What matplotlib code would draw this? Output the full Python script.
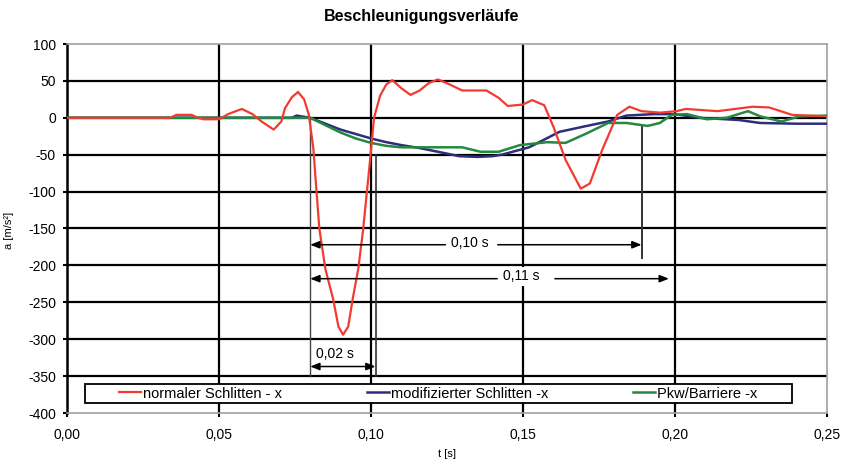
import matplotlib
matplotlib.use("Agg")
import matplotlib.pyplot as plt
from matplotlib.ticker import FixedLocator, FixedFormatter
from matplotlib.patches import Rectangle

plt.rcParams['font.family'] = ['Liberation Sans', 'DejaVu Sans']

# ---------------- data ----------------
t_red = [0, 0.034, 0.036, 0.041, 0.043, 0.045, 0.050, 0.053, 0.0575, 0.061, 0.064, 0.068,
         0.0705, 0.0717, 0.074, 0.076, 0.078, 0.0795, 0.081, 0.083, 0.085, 0.0875, 0.0893,
         0.0908, 0.0925, 0.094, 0.0958, 0.0974, 0.0997, 0.101, 0.102, 0.103, 0.105, 0.107,
         0.110, 0.113, 0.116, 0.119, 0.122,
         0.126, 0.130, 0.138, 0.142, 0.145, 0.150, 0.153, 0.157, 0.160, 0.164, 0.169,
         0.172, 0.176, 0.181, 0.185, 0.189, 0.195, 0.2005, 0.2035, 0.214, 0.2255, 0.231,
         0.2385, 0.25]
a_red = [0, 0, 4, 4, 0, -2, -2, 5, 12, 5, -5, -16,
         -5, 13, 28, 35, 25, 5, -40, -150, -205, -245, -283,
         -294, -283, -245, -205, -152, -57, 0, 15, 30, 45, 51,
         40, 31, 37, 47, 52,
         45, 37, 37, 27, 16, 18, 24, 17, -12, -57, -96,
         -89, -44, 4, 15, 9, 7, 9, 12, 9, 15, 14,
         4, 2]

t_blue = [0, 0.074, 0.0755, 0.077, 0.080, 0.085, 0.090, 0.095, 0.100, 0.105, 0.110, 0.116,
          0.122, 0.129, 0.135, 0.140, 0.143, 0.152, 0.162, 0.171, 0.178, 0.184, 0.193,
          0.200, 0.208, 0.221, 0.228, 0.240, 0.25]
a_blue = [0, 0, 3, 2, 0, -8, -16, -22, -28, -33, -37, -41,
          -46, -52, -53, -52, -50, -40, -19, -11, -5, 3, 5,
          5, 0, -3, -7, -8, -8]

t_green = [0, 0.080, 0.085, 0.090, 0.095, 0.100, 0.105, 0.110, 0.116, 0.130, 0.136, 0.142,
           0.149, 0.158, 0.164, 0.171, 0.178, 0.184, 0.191, 0.195, 0.199, 0.204, 0.2105,
           0.217, 0.224, 0.228, 0.235, 0.241, 0.25]
a_green = [0, 0, -10, -20, -28, -34, -38, -40, -40, -40, -46, -46,
           -37, -33, -34, -21, -7, -7, -11, -7, 4, 5, -2,
           0, 9, 2, -5, 2, 3]

series_labels = ["normaler Schlitten - x", "modifizierter Schlitten -x", "Pkw/Barriere -x"]

x_ticks = [0.00, 0.05, 0.10, 0.15, 0.20, 0.25]
x_ticklabels = ["0,00", "0,05", "0,10", "0,15", "0,20", "0,25"]
y_ticks = [100, 50, 0, -50, -100, -150, -200, -250, -300, -350, -400]
y_ticklabels = ["100", "50", "0", "-50", "-100", "-150", "-200", "-250", "-300", "-350", "-400"]

# annotation marks (times and levels)
t_start = 0.080
t_end_red = 0.1015
t_end_mod = 0.189
t_end_pkw = 0.198
lbl_002 = "0,02 s"
lbl_010 = "0,10 s"
lbl_011 = "0,11 s"

# ---------------- figure ----------------
W, H = 841, 465
fig = plt.figure(figsize=(W/100, H/100), dpi=100)
ax = fig.add_axes([67/W, 1-413/H, 760/W, 369/H])

ax.set_xlim(0, 0.25)
ax.set_ylim(-400, 100)

# grid
for xv in x_ticks[1:-1]:
    ax.axvline(xv, color='black', lw=1.6, zorder=1)
for yv in y_ticks[1:-1]:
    ax.axhline(yv, color='black', lw=1.6, zorder=1)

# annotation verticals
ax.plot([t_start, t_start], [0, -350], color='#444444', lw=1.0, zorder=2)
ax.plot([t_end_red, t_end_red], [-50, -350], color='#333333', lw=1.2, zorder=2)
ax.plot([t_end_mod, t_end_mod], [-13, -190], color='#333333', lw=1.4, zorder=2)

# series
c_red, c_blue, c_green = '#f23b30', '#2e2d7c', '#23893e'
l1, = ax.plot(t_red, a_red, color=c_red, lw=1.6, zorder=5, label=series_labels[0])
l2, = ax.plot(t_blue, a_blue, color=c_blue, lw=1.8, zorder=3, label=series_labels[1])
l3, = ax.plot(t_green, a_green, color=c_green, lw=1.8, zorder=4, label=series_labels[2])

# arrows
ap = dict(arrowstyle='-|>,head_length=0.55,head_width=0.22', color='black', lw=1.1,
          shrinkA=0, shrinkB=0)
y010, y011, y002 = -172, -218, -337
afs = 10
# 0,10 s
ax.annotate('', xy=(t_start, y010), xytext=(0.1245, y010), arrowprops=ap, zorder=6)
ax.annotate('', xy=(t_end_mod, y010), xytext=(0.1417, y010), arrowprops=ap, zorder=6)
ax.text(0.1326, y010 + 3, lbl_010, ha='center', va='center', fontsize=afs, zorder=7)
# 0,11 s
ax.annotate('', xy=(t_start, y011), xytext=(0.1415, y011), arrowprops=ap, zorder=6)
ax.annotate('', xy=(t_end_pkw, y011), xytext=(0.1605, y011), arrowprops=ap, zorder=6)
ax.text(0.1493, y011 + 3, lbl_011, ha='center', va='center', fontsize=afs, zorder=7,
        bbox=dict(facecolor='white', edgecolor='none', pad=1.5))
# 0,02 s
ap2 = dict(arrowstyle='<|-|>,head_length=0.55,head_width=0.22', color='black', lw=1.1,
           shrinkA=0, shrinkB=0)
ax.annotate('', xy=(t_start, y002), xytext=(t_end_red, y002), arrowprops=ap2, zorder=6)
ax.text(0.0883, -320, lbl_002, ha='center', va='center', fontsize=afs, zorder=7)

# spines
for s in ['top', 'right', 'bottom']:
    ax.spines[s].set_color('#a0a0a0')
    ax.spines[s].set_linewidth(1.2)
ax.spines['left'].set_color('black')
ax.spines['left'].set_linewidth(1.8)

ax.xaxis.set_major_locator(FixedLocator(x_ticks))
ax.xaxis.set_major_formatter(FixedFormatter(x_ticklabels))
ax.yaxis.set_major_locator(FixedLocator(y_ticks))
ax.yaxis.set_major_formatter(FixedFormatter(y_ticklabels))
ax.tick_params(axis='y', direction='out', length=3, width=1.5, pad=5, labelsize=10, colors='black')
ax.tick_params(axis='x', direction='out', length=3, width=1.5, pad=8, labelsize=10, colors='black')

ax.set_xlabel('t [s]', fontsize=8)
ax.xaxis.set_label_coords(0.5, (413-449)/369)
ax.set_ylabel('a [m/s²]', fontsize=8)
ax.yaxis.set_label_coords((14-67)/760, (413-230)/369)

ax.text((422-67)/760, (413-17)/369, 'Beschleunigungsverläufe', transform=ax.transAxes,
        ha='center', va='center', fontsize=11.5, fontweight='bold')

# legend box (frame) and entries
ax.add_patch(Rectangle(((85-67)/760, (413-403)/369), (792-85)/760, 19/369,
                       transform=ax.transAxes, facecolor='white', edgecolor='black',
                       lw=1.3, zorder=8))
leg = ax.legend(handles=[l1, l2, l3], loc='center left',
                bbox_to_anchor=((119-67)/760, (413-393.5)/369),
                ncol=3, frameon=False, fontsize=10.5,
                handlelength=1.5, handletextpad=0.15, borderpad=0.0,
                columnspacing=5.8, borderaxespad=0)
leg.set_zorder(9)

fig.savefig('out.png', dpi=100, facecolor='white')
